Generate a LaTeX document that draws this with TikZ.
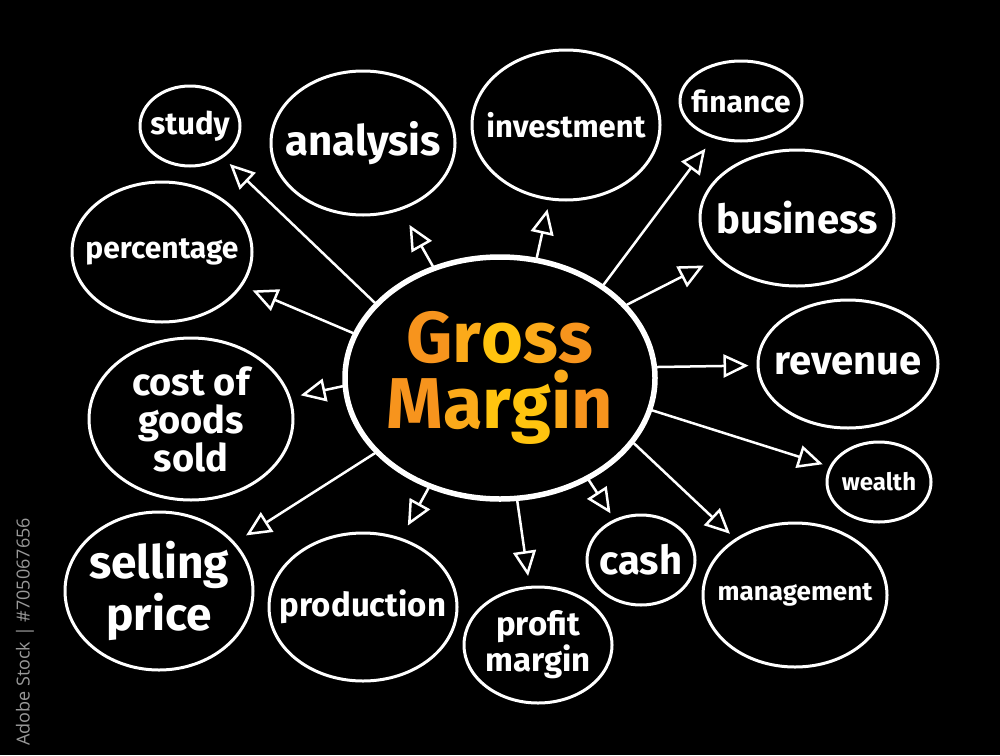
\documentclass[tikz,border=0pt]{standalone}
\usepackage{fontspec}
\setmainfont{Fira Sans}
\newfontfamily\wmfont{Open Sans}
\usetikzlibrary{shapes.geometric,arrows.meta}
\definecolor{orA}{HTML}{F7941D}
\definecolor{orB}{HTML}{FBAA1A}
\definecolor{orC}{HTML}{FFC40F}
\newcommand{\fsz}[2]{\fontsize{#1}{#2}\selectfont\bfseries}

\begin{document}
\begin{tikzpicture}[x=1pt,y=-1pt,line join=round,line cap=round,
  bub/.style={ellipse,draw=white,line width=3pt,inner sep=0pt},
  lbl/.style={text=white,align=center,inner sep=0pt},
  arr/.style={white,line width=2.5pt,-{Triangle[open,length=25pt,width=23pt,line width=2.5pt]}}]
\fill[black] (0,0) rectangle (1000,755);
\useasboundingbox (0,0) rectangle (1000,755);
% centre
\node[bub,line width=5.5pt,minimum width=310pt,minimum height=242pt,
  label={[inner sep=0pt,align=center,font=\fsz{72}{66}]center:{%
  \textcolor{orA}{G}\textcolor{orB}{r}\textcolor{orC}{o}\textcolor{orB}{s}\textcolor{orA}{s}\\
  \textcolor{orA}{M}\textcolor{orB}{a}\textcolor{orC}{r}\textcolor{orC}{g}\textcolor{orB}{i}\textcolor{orA}{n}}}] (gm) at (500,378) {};
% branches
\node[bub,minimum width=100pt,minimum height=80pt,label={[lbl,font=\fsz{31}{34}]center:study}] (study) at (190,126) {};
\node[bub,minimum width=184pt,minimum height=144pt,label={[lbl,font=\fsz{42}{46}]center:analysis}] (analysis) at (363,143) {};
\node[bub,minimum width=188pt,minimum height=150pt,label={[lbl,font=\fsz{31}{34}]center:investment}] (investment) at (566,125) {};
\node[bub,minimum width=122pt,minimum height=80pt,label={[lbl,font=\fsz{30}{33}]center:finance}] (finance) at (741,101) {};
\node[bub,minimum width=194pt,minimum height=136pt,label={[lbl,font=\fsz{40}{44}]center:business}] (business) at (797,218) {};
\node[bub,minimum width=180pt,minimum height=140pt,label={[lbl,font=\fsz{30}{33}]center:percentage}] (percentage) at (162,252) {};
\node[bub,minimum width=180pt,minimum height=128pt,label={[lbl,font=\fsz{40}{44}]center:revenue}] (revenue) at (848,364) {};
\node[bub,minimum width=204pt,minimum height=162pt,label={[lbl,font=\fsz{38}{38}]center:{cost of\\goods\\sold}}] (cogs) at (191,419) {};
\node[bub,minimum width=104pt,minimum height=80pt,label={[lbl,font=\fsz{24}{26}]center:wealth}] (wealth) at (879,482) {};
\node[bub,minimum width=188pt,minimum height=158pt,label={[lbl,font=\fsz{46}{52}]center:{selling\\price}}] (selling) at (159,591) {};
\node[bub,minimum width=188pt,minimum height=148pt,label={[lbl,font=\fsz{33}{36}]center:production}] (production) at (363,607) {};
\node[bub,minimum width=148pt,minimum height=116pt,label={[lbl,font=\fsz{33}{36}]center:{profit\\margin}}] (profit) at (538,645) {};
\node[bub,minimum width=108pt,minimum height=90pt,label={[lbl,font=\fsz{40}{44}]center:cash}] (cash) at (641,560) {};
\node[bub,minimum width=184pt,minimum height=144pt,label={[lbl,font=\fsz{26}{29}]center:management}] (management) at (795,595) {};
% arrows
\foreach \a/\n/\s in {149/study/9pt,121/analysis/17pt,73/investment/9pt,42/finance/13pt,
  30/business/15pt,4/revenue/8pt,-12/wealth/7pt,-26/management/7pt,-49/cash/7pt,
  -82/profit/10pt,237/production/14pt,211/selling/13pt,183/cogs/10pt,163/percentage/11pt}
  {\draw[arr,shorten >=\s] (gm.\a) -- (\n);}
\node[text=gray!80,font=\wmfont\fontsize{18}{18}\selectfont,rotate=90] (wm) at (25,632) {Adobe Stock | \#705067656};
\end{tikzpicture}
\end{document}
